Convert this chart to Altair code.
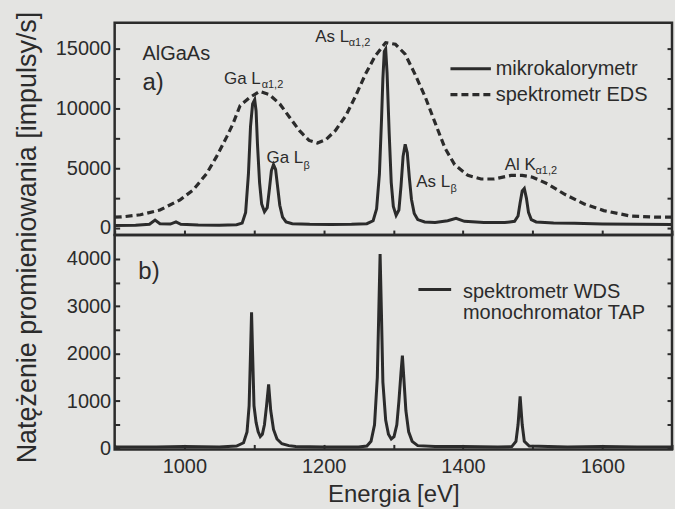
import altair as alt
import pandas as pd

# ---------------- data ----------------
# panel a) mikrokalorymetr (solid)
e_kal = [900, 930, 950, 958, 965, 980, 988, 995, 1020, 1050, 1075, 1083, 1088, 1092, 1095, 1098,
         1101, 1103, 1105, 1108, 1111, 1115, 1119, 1122, 1125, 1128, 1131, 1134, 1137, 1141, 1146,
         1155, 1180, 1210, 1240, 1262, 1271, 1276, 1280, 1283, 1285, 1287, 1289, 1291, 1294, 1297,
         1300, 1304, 1308, 1311, 1314, 1317, 1320, 1323, 1326, 1330, 1335, 1345, 1360, 1378, 1390,
         1402, 1430, 1460, 1474, 1479, 1482, 1485, 1488, 1491, 1494, 1498, 1505, 1530, 1560, 1600,
         1650, 1700]
v_kal = [200, 220, 300, 650, 350, 320, 500, 300, 250, 230, 260, 400, 1300, 4500, 8500, 10400,
         10750, 9800, 7000, 3800, 2000, 1350, 1700, 3200, 4800, 5300, 4900, 3400, 1900, 900, 500,
         350, 300, 280, 300, 350, 600, 1600, 4500, 9000, 12500, 14800, 15000, 13000, 8000, 3800,
         1800, 1050, 1500, 3500, 6000, 7000, 6300, 4200, 2400, 1200, 700, 500, 450, 600, 800,
         550, 450, 450, 550, 1000, 2100, 3100, 3300, 2500, 1300, 700, 500, 420, 380, 330,
         300, 280]

# panel a) spektrometr EDS (dashed)
e_eds = [900, 910, 937, 965, 994, 1013, 1032, 1046, 1061, 1070, 1080, 1094, 1108, 1122, 1137,
         1151, 1165, 1179, 1191, 1203, 1217, 1232, 1246, 1260, 1274, 1289, 1303, 1317, 1331,
         1346, 1360, 1374, 1388, 1407, 1426, 1445, 1469, 1485, 1500, 1521, 1545, 1574, 1602,
         1640, 1678, 1700]
v_eds = [900, 920, 1100, 1500, 2350, 3200, 4550, 5950, 7650, 8750, 10250, 10940, 11440, 11170,
         10390, 9280, 8170, 7330, 7110, 7390, 8170, 9420, 11080, 12890, 14420, 15530, 15390,
         14560, 12890, 10940, 8800, 6700, 5300, 4400, 4100, 4100, 4400, 4400, 4250, 3700, 2850,
         2000, 1450, 1000, 900, 900]

# panel b) spektrometr WDS, monochromator TAP
e_wds = [900, 960, 1000, 1050, 1075, 1085, 1090, 1093, 1095, 1096.5, 1098, 1100, 1103, 1106,
         1109, 1112, 1115, 1118, 1121, 1124, 1128, 1133, 1140, 1150, 1160, 1200, 1250, 1262,
         1268, 1273, 1277, 1279, 1281, 1283, 1285, 1289, 1293, 1297, 1301, 1305, 1308, 1311,
         1313, 1315, 1318, 1322, 1327, 1335, 1360, 1400, 1450, 1470, 1476, 1479, 1482, 1485,
         1488, 1495, 1550, 1600, 1650, 1700]
v_wds = [30, 30, 40, 30, 50, 120, 350, 900, 2000, 2870, 2000, 900, 550, 350,
         250, 300, 500, 900, 1350, 800, 400, 200, 100, 60, 40, 30, 30, 50,
         150, 500, 1500, 2800, 4100, 2800, 1400, 600, 300, 200, 250, 500, 1000, 1600,
         1960, 1500, 800, 350, 150, 60, 40, 40, 30, 40, 150, 500, 1100, 500,
         150, 50, 30, 40, 30, 30]

# annotations (panel a)
ann_main_txt = ["Ga L", "Ga L", "As L", "As L", "Al K"]
ann_main_e = [1057, 1118, 1188, 1333, 1460]
ann_main_v = [12500, 5830, 16000, 3830, 5250]
ann_sub_txt = ["α1,2", "β", "α1,2", "β", "α1,2"]
ann_sub_e = [1111, 1171, 1236, 1382, 1504]
ann_sub_v = [12000, 5170, 15500, 3250, 4750]

legend_a_txt = ["mikrokalorymetr", "spektrometr EDS"]
legend_a_v = [13330, 11170]
legend_b_txt = ["spektrometr WDS", "monochromator TAP"]
legend_b_v = [3300, 2860]

INK = "#2b2b2b"
FONT = "Liberation Sans"

df_kal = pd.DataFrame({"E": e_kal, "v": v_kal})
df_eds = pd.DataFrame({"E": e_eds, "v": v_eds})
df_wds = pd.DataFrame({"E": e_wds, "v": v_wds})

xs = alt.Scale(domain=[900, 1700], nice=False, zero=False)
ys_a = alt.Scale(domain=[-600, 17200], nice=False, zero=False)
ys_b = alt.Scale(domain=[-20, 4500], nice=False, zero=False)

xticks = list(range(900, 1701, 100))

x_axis_a = alt.Axis(values=xticks, labels=False, ticks=True, tickSize=5, offset=-5,
                    domain=False, grid=False, title=None, tickColor=INK, tickWidth=2)
x_axis_b = alt.Axis(values=xticks, format="d", ticks=True, tickSize=5, offset=-5,
                    labelExpr="datum.value % 200 == 0 ? datum.label : ''",
                    labelPadding=7, domain=False, grid=False, title="Energia [eV]",
                    titleFontSize=24, titlePadding=6, tickColor=INK, tickWidth=2)

yl_a = alt.Axis(values=list(range(0, 15001, 2500)), format="d", tickSize=5, offset=-5,
                labelExpr="datum.value % 5000 == 0 ? datum.label : ''",
                labelPadding=4, domain=False, grid=False, title=None, tickColor=INK, tickWidth=2)
yr_a = alt.Axis(orient="right", values=list(range(0, 15001, 2500)), labels=False, tickSize=5,
                offset=-5, domain=False, grid=False, title=None, tickColor=INK, tickWidth=2)
yl_b = alt.Axis(values=list(range(0, 4001, 500)), format="d", tickSize=5, offset=-5,
                labelExpr="datum.value % 1000 == 0 ? datum.label : ''",
                labelPadding=4, domain=False, grid=False,
                title="Natężenie promieniowania [impulsy/s]", titleFontSize=27,
                titleX=-92, titleY=2, titleAngle=-90, titleAlign="center",
                titleBaseline="middle", tickColor=INK, tickWidth=2)
yr_b = alt.Axis(orient="right", values=list(range(0, 4001, 500)), labels=False, tickSize=5,
                offset=-5, domain=False, grid=False, title=None, tickColor=INK, tickWidth=2)


def txt_layer(df, size, xenc_axis, yscale):
    return alt.Chart(df).mark_text(align="left", baseline="middle", font=FONT,
                                   fontSize=size, color=INK, fill=INK).encode(
        x=alt.X("E:Q", scale=xs, axis=xenc_axis),
        y=alt.Y("v:Q", scale=yscale, axis=None),
        text="t:N")


# ---------------- panel a ----------------
solid_a = alt.Chart(df_kal).mark_line(color=INK, strokeWidth=3, clip=True).encode(
    x=alt.X("E:Q", scale=xs, axis=x_axis_a), y=alt.Y("v:Q", scale=ys_a, axis=yl_a))
ghost_a = alt.Chart(df_kal).mark_line(opacity=0).encode(
    x=alt.X("E:Q", scale=xs, axis=x_axis_a), y=alt.Y("v:Q", scale=ys_a, axis=yr_a))
dash_a = alt.Chart(df_eds).mark_line(color=INK, strokeWidth=3.2, strokeDash=[7, 4], clip=True).encode(
    x=alt.X("E:Q", scale=xs, axis=x_axis_a), y=alt.Y("v:Q", scale=ys_a, axis=None))

title_a = txt_layer(pd.DataFrame({"E": [940], "v": [14580], "t": ["AlGaAs"]}), 20, x_axis_a, ys_a)
tag_a = txt_layer(pd.DataFrame({"E": [940], "v": [12170], "t": ["a)"]}), 24, x_axis_a, ys_a)
main_a = txt_layer(pd.DataFrame({"E": ann_main_e, "v": ann_main_v, "t": ann_main_txt}), 17, x_axis_a, ys_a)
sub_a = txt_layer(pd.DataFrame({"E": ann_sub_e, "v": ann_sub_v, "t": ann_sub_txt}), 11, x_axis_a, ys_a)
leg_txt_a = txt_layer(pd.DataFrame({"E": [1447, 1447], "v": legend_a_v, "t": legend_a_txt}), 20, x_axis_a, ys_a)

leg_solid_a = alt.Chart(pd.DataFrame({"E": [1382], "E2": [1440], "v": [legend_a_v[0]]})).mark_rule(
    color=INK, strokeWidth=3).encode(
    x=alt.X("E:Q", scale=xs, axis=x_axis_a), x2="E2:Q", y=alt.Y("v:Q", scale=ys_a, axis=None))
leg_dash_a = alt.Chart(pd.DataFrame({"E": [1382], "E2": [1440], "v": [legend_a_v[1]]})).mark_rule(
    color=INK, strokeWidth=3.2, strokeDash=[7, 4]).encode(
    x=alt.X("E:Q", scale=xs, axis=x_axis_a), x2="E2:Q", y=alt.Y("v:Q", scale=ys_a, axis=None))

panel_a = alt.layer(solid_a, ghost_a, dash_a, title_a, tag_a, main_a, sub_a, leg_txt_a,
                    leg_solid_a, leg_dash_a).resolve_axis(y="independent").properties(
    width=559, height=213)

# ---------------- panel b ----------------
solid_b = alt.Chart(df_wds).mark_line(color=INK, strokeWidth=3, clip=True).encode(
    x=alt.X("E:Q", scale=xs, axis=x_axis_b), y=alt.Y("v:Q", scale=ys_b, axis=yl_b))
ghost_b = alt.Chart(df_wds).mark_line(opacity=0).encode(
    x=alt.X("E:Q", scale=xs, axis=x_axis_b), y=alt.Y("v:Q", scale=ys_b, axis=yr_b))
tag_b = txt_layer(pd.DataFrame({"E": [934], "v": [3726], "t": ["b)"]}), 24, x_axis_b, ys_b)
leg_txt_b = txt_layer(pd.DataFrame({"E": [1400, 1400], "v": legend_b_v, "t": legend_b_txt}), 20, x_axis_b, ys_b)
leg_solid_b = alt.Chart(pd.DataFrame({"E": [1336], "E2": [1383], "v": [3350]})).mark_rule(
    color=INK, strokeWidth=3).encode(
    x=alt.X("E:Q", scale=xs, axis=x_axis_b), x2="E2:Q", y=alt.Y("v:Q", scale=ys_b, axis=None))

panel_b = alt.layer(solid_b, ghost_b, tag_b, leg_txt_b, leg_solid_b).resolve_axis(
    y="independent").properties(width=559, height=215)

chart = alt.vconcat(panel_a, panel_b, spacing=0, bounds="flush").properties(
    background="#e4e4e2",
    padding={"left": 12, "top": 9, "right": 0, "bottom": 0},
).configure_view(stroke=INK, strokeWidth=2.5).configure_axis(
    labelFont=FONT, titleFont=FONT, labelFontSize=20, labelColor=INK, titleColor=INK,
    titleFontWeight="normal")

chart.save("out.html", embed_options={"renderer": "svg", "actions": False})
